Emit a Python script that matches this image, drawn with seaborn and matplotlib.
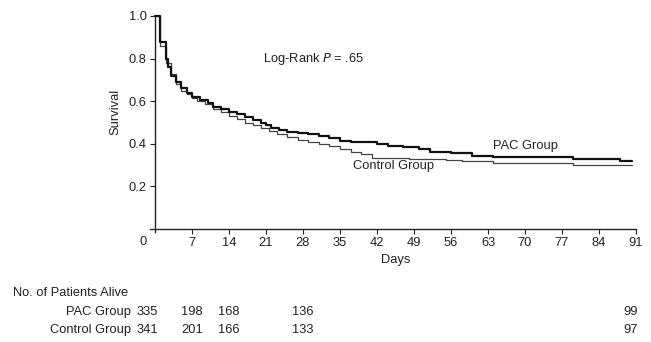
import numpy as np
import pandas as pd
import matplotlib
matplotlib.use("Agg")
import matplotlib.pyplot as plt
import matplotlib.transforms as mtransforms
import seaborn as sns

# ---- data ----
pac_days = [0, 1, 2, 2.5, 3, 4, 5, 6, 7, 8.5, 10, 11, 12.5, 14, 15.5, 17, 18.5, 20, 21,
            22, 23.5, 25, 27, 29, 31, 33, 35, 37, 42, 44, 47, 50, 52, 56, 60, 64, 79, 88, 90.3]
pac_surv = [1.0, 0.88, 0.80, 0.76, 0.72, 0.69, 0.66, 0.64, 0.62, 0.605, 0.59, 0.575, 0.565,
            0.55, 0.54, 0.525, 0.51, 0.50, 0.49, 0.475, 0.465, 0.455, 0.45, 0.445, 0.435,
            0.425, 0.415, 0.41, 0.40, 0.39, 0.385, 0.375, 0.36, 0.355, 0.345, 0.34, 0.33,
            0.318, 0.318]

ctl_days = [0, 1, 2, 3, 4, 5, 6, 7, 8, 9.5, 11, 12.5, 14, 15.5, 17, 18.5, 20, 21.5, 23, 25,
            27, 29, 31, 33, 35, 37, 39, 41, 48, 55, 58, 64, 79, 90.3]
ctl_surv = [1.0, 0.86, 0.78, 0.73, 0.68, 0.65, 0.635, 0.615, 0.60, 0.585, 0.565, 0.55, 0.53,
            0.515, 0.50, 0.49, 0.475, 0.46, 0.445, 0.43, 0.42, 0.41, 0.40, 0.39, 0.375, 0.36,
            0.35, 0.335, 0.33, 0.325, 0.32, 0.31, 0.302, 0.302]

x_ticks = [7, 14, 21, 28, 35, 42, 49, 56, 63, 70, 77, 84, 91]
y_ticks = [0.2, 0.4, 0.6, 0.8, 1.0]
y_ticklabels = ["0.2", "0.4", "0.6", "0.8", "1.0"]

risk_days = [0, 7, 14, 28, 91]
risk_pac = [335, 198, 168, 136, 99]
risk_ctl = [341, 201, 166, 133, 97]

df = pd.concat([
    pd.DataFrame({"Days": pac_days, "Survival": pac_surv, "Group": "PAC Group"}),
    pd.DataFrame({"Days": ctl_days, "Survival": ctl_surv, "Group": "Control Group"}),
])

FS = 9.3
TXT = "#222222"

sns.set_style("ticks")
plt.rcParams["font.family"] = ["Liberation Sans", "DejaVu Sans"]
plt.rcParams["font.size"] = FS

fig = plt.figure(figsize=(6.51, 3.42), dpi=100)
ax = fig.add_axes([155 / 651, 1 - 229 / 342, (636 - 155) / 651, (229 - 16) / 342])

sns.lineplot(data=df[df.Group == "Control Group"], x="Days", y="Survival",
             estimator=None, drawstyle="steps-post", color="#444444", linewidth=0.9,
             ax=ax, clip_on=False)
sns.lineplot(data=df[df.Group == "PAC Group"], x="Days", y="Survival",
             estimator=None, drawstyle="steps-post", color="#111111", linewidth=1.6,
             ax=ax, clip_on=False)

ax.set_xlim(0, 91)
ax.set_ylim(0, 1.0)
ax.set_xticks(x_ticks)
ax.set_xticklabels([str(t) for t in x_ticks])
ax.set_yticks(y_ticks)
ax.set_yticklabels(y_ticklabels)
ax.tick_params(axis="both", direction="out", length=3.5, width=0.8, pad=2.5,
               labelsize=FS, colors=TXT)
for s in ["top", "right"]:
    ax.spines[s].set_visible(False)
for s in ["left", "bottom"]:
    ax.spines[s].set_linewidth(1.0)
    ax.spines[s].set_color(TXT)
ax.spines["bottom"].set_bounds(-1, 91)
ax.spines["left"].set_bounds(-0.015, 1.0)

ax.set_xlabel("Days", fontsize=FS, labelpad=3, color=TXT)
ax.set_ylabel("Survival", fontsize=FS, color=TXT)
ax.yaxis.set_label_coords(-0.07, 0.55)

# "0" label placed left of the y-axis, as in the reference
off0 = mtransforms.ScaledTranslation(-12 / 100, 0, fig.dpi_scale_trans)
ax.text(0, -0.06, "0", transform=ax.get_xaxis_transform() + off0,
        ha="center", va="center", fontsize=FS, color=TXT)

ax.text(30, 0.80, "Log-Rank $\\it{P}$ = .65", ha="center", va="center",
        fontsize=FS, color=TXT)
ax.text(63.9, 0.39, "PAC Group", ha="left", va="center", fontsize=FS, color=TXT)
ax.text(37.4, 0.297, "Control Group", ha="left", va="center", fontsize=FS, color=TXT)

# risk table
fig.text(13 / 651, 1 - 293 / 342, "No. of Patients Alive", ha="left", va="center",
         fontsize=FS, color=TXT)
fig.text(131 / 651, 1 - 312 / 342, "PAC Group", ha="right", va="center",
         fontsize=FS, color=TXT)
fig.text(131 / 651, 1 - 330 / 342, "Control Group", ha="right", va="center",
         fontsize=FS, color=TXT)
tr = mtransforms.blended_transform_factory(ax.transData, fig.transFigure)
for d, p, c in zip(risk_days, risk_pac, risk_ctl):
    t = tr
    if d == 0:
        t = tr + mtransforms.ScaledTranslation(-8 / 100, 0, fig.dpi_scale_trans)
    elif d == risk_days[-1]:
        t = tr + mtransforms.ScaledTranslation(-5 / 100, 0, fig.dpi_scale_trans)
    fig.text(d, 1 - 312 / 342, str(p), transform=t, ha="center", va="center",
             fontsize=FS, color=TXT)
    fig.text(d, 1 - 330 / 342, str(c), transform=t, ha="center", va="center",
             fontsize=FS, color=TXT)

fig.savefig("out.png", dpi=100)
